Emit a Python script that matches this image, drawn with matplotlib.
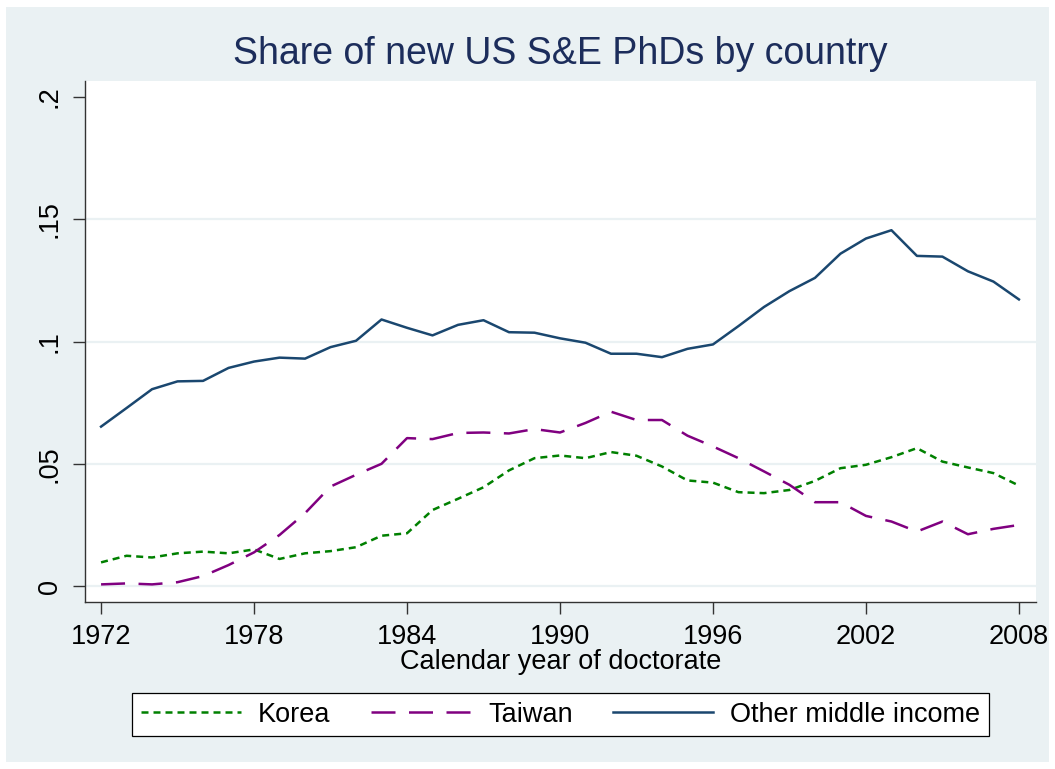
import matplotlib
matplotlib.use("Agg")
import matplotlib.pyplot as plt
from matplotlib.patches import Rectangle

plt.rcParams['font.family'] = ['Liberation Sans', 'DejaVu Sans']

years = list(range(1972, 2009))
korea = [0.0097, 0.0124, 0.0117, 0.0134, 0.0141, 0.0134, 0.0150, 0.0111, 0.0134, 0.0143,
         0.0159, 0.0206, 0.0216, 0.0311, 0.0357, 0.0404, 0.0473, 0.0523, 0.0534, 0.0523,
         0.0548, 0.0533, 0.0489, 0.0432, 0.0423, 0.0384, 0.0380, 0.0393, 0.0430, 0.0482,
         0.0496, 0.0527, 0.0564, 0.0509, 0.0485, 0.0462, 0.0411]
taiwan = [0.0007, 0.0011, 0.0007, 0.0016, 0.0041, 0.0086, 0.0138, 0.0209, 0.0298, 0.0407,
          0.0455, 0.0500, 0.0605, 0.0601, 0.0626, 0.0628, 0.0624, 0.0642, 0.0628, 0.0667,
          0.0713, 0.0679, 0.0679, 0.0615, 0.0571, 0.0523, 0.0469, 0.0414, 0.0343, 0.0343,
          0.0287, 0.0264, 0.0223, 0.0264, 0.0212, 0.0234, 0.0250]
other = [0.0652, 0.0728, 0.0805, 0.0837, 0.0839, 0.0892, 0.0918, 0.0934, 0.0930, 0.0977,
         0.1003, 0.1090, 0.1056, 0.1025, 0.1068, 0.1087, 0.1038, 0.1036, 0.1013, 0.0995,
         0.0950, 0.0950, 0.0936, 0.0970, 0.0988, 0.1063, 0.1141, 0.1206, 0.1260, 0.1359,
         0.1421, 0.1455, 0.1350, 0.1347, 0.1287, 0.1245, 0.1172]

series_labels = ["Korea", "Taiwan", "Other middle income"]
xticks = [1972, 1978, 1984, 1990, 1996, 2002, 2008]
yticks = [0, 0.05, 0.1, 0.15, 0.2]
ytick_labels = ["0", ".05", ".1", ".15", ".2"]
title = "Share of new US S&E PhDs by country"
xlabel = "Calendar year of doctorate"

W, H = 1055, 769
fig = plt.figure(figsize=(W / 100, H / 100), dpi=100, facecolor="white")
bg = "#EAF1F3"
fig.patches.append(Rectangle((6 / W, 7 / H), 1 - 12 / W, 1 - 14 / H,
                             transform=fig.transFigure, facecolor=bg,
                             edgecolor="none", zorder=-10))

ax = fig.add_axes([85 / W, (H - 602) / H, (1036 - 85) / W, (602 - 81) / H])
ax.set_facecolor("white")

lw = 1.8
ax.plot(years, korea, color="#008000", lw=lw, linestyle=(0, (2.8, 2.0)),
        label=series_labels[0], zorder=3)
ax.plot(years, taiwan, color="#800080", lw=lw, linestyle=(0, (9.6, 5.4)),
        label=series_labels[1], zorder=3)
ax.plot(years, other, color="#1A476F", lw=lw, linestyle="-",
        label=series_labels[2], zorder=3)

fs = 19.5
ax.set_xlim(1971.37, 2008.67)
ax.set_ylim(-0.0065, 0.2065)
ax.set_xticks(xticks)
ax.set_xticklabels([str(x) for x in xticks], fontsize=fs)
ax.set_yticks(yticks)
ax.set_yticklabels(ytick_labels, fontsize=fs, rotation=90, va="center")

for yv in yticks[:-1]:
    ax.axhline(yv, color=bg, lw=1.6, zorder=1)

for s in ["top", "right"]:
    ax.spines[s].set_visible(False)
for s in ["left", "bottom"]:
    ax.spines[s].set_color("#333333")
    ax.spines[s].set_linewidth(1.0)

ax.tick_params(axis="both", direction="out", length=8.5, width=1.0,
               color="#333333", pad=7.5)

ax.set_xlabel(xlabel, fontsize=fs, labelpad=-1)
ax.set_title(title, fontsize=27, color="#1C2D5B", pad=12)

leg = fig.legend(loc="center", ncol=3, mode="expand",
                 bbox_to_anchor=(132 / W, (H - 739) / H, (989 - 132) / W, 49 / H),
                 fontsize=fs, frameon=True, fancybox=False, handlelength=3.7,
                 handletextpad=0.63, borderpad=0.32, borderaxespad=0)
leg.get_frame().set_edgecolor("black")
leg.get_frame().set_linewidth(0.9)
leg.get_frame().set_facecolor("white")
leg.get_frame().set_alpha(1)

fig.savefig("out.png", dpi=100, facecolor="white")
